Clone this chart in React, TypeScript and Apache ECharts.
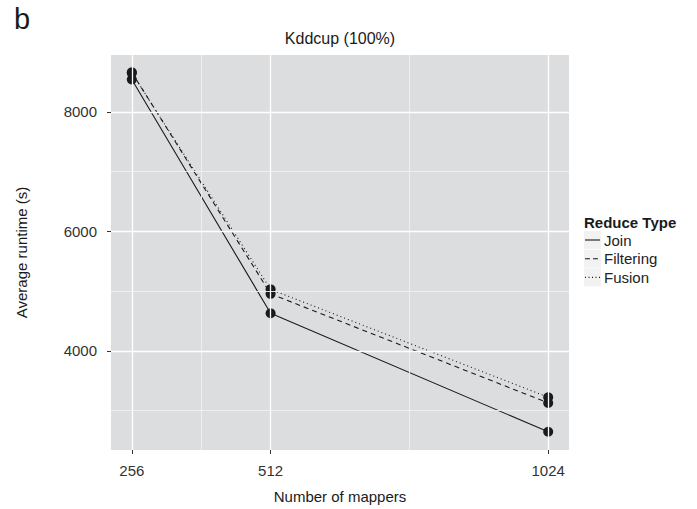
import React, { useEffect, useRef } from "react";
import * as echarts from "echarts";

const mappers = [256, 512, 1024];
const joinRuntime = [8540, 4628, 2645];
const filteringRuntime = [8660, 4953, 3128];
const fusionRuntime = [8650, 5028, 3223];
const seriesNames = ["Join", "Filtering", "Fusion"];
const xTicks = [256, 512, 1024];
const xMinor = [384, 768];
const yTicks = [4000, 6000, 8000];
const yMinor = [3000, 5000, 7000];

const FONT = "'Liberation Sans', Arial, Helvetica, sans-serif";
const INK = "#1a1a1a";

export default function App() {
  const ref = useRef<HTMLDivElement>(null);
  useEffect(() => {
    if (!ref.current) return;
    const chart = echarts.init(ref.current, null, { renderer: "svg" });
    const values = [joinRuntime, filteringRuntime, fusionRuntime];
    const lineTypes: any[] = ["solid", [5, 4], [1, 3]];
    const major = { color: "#ffffff", width: 1.3, type: "solid" };
    const minor = { color: "#f1f1f2", width: 0.9, type: "solid" };
    const legendX = 584;
    const legendY0 = 240;
    const legendStep = 18.7;
    const legendGraphics: any[] = [
      {
        type: "text",
        x: legendX,
        y: 222,
        style: { text: "Reduce Type", font: `bold 15px ${FONT}`, fill: INK, textVerticalAlign: "middle" },
      },
    ];
    seriesNames.forEach((name, i) => {
      const cy = legendY0 + i * legendStep;
      legendGraphics.push({
        type: "rect",
        shape: { x: legendX, y: cy - 9, width: 17, height: 18 },
        style: { fill: "#f2f2f2" },
      });
      legendGraphics.push({
        type: "line",
        shape: { x1: legendX + 1, y1: cy, x2: legendX + 16, y2: cy },
        style: {
          stroke: INK,
          lineWidth: 1.1,
          lineDash: i === 0 ? null : i === 1 ? [5, 3] : [1, 2.5],
        },
      });
      legendGraphics.push({
        type: "text",
        x: legendX + 20,
        y: cy,
        style: { text: name, font: `15px ${FONT}`, fill: "#222", textVerticalAlign: "middle" },
      });
    });

    chart.setOption({
      animation: false,
      backgroundColor: "#ffffff",
      textStyle: { fontFamily: FONT },
      grid: {
        left: 111,
        top: 55,
        right: 128,
        bottom: 57,
        show: true,
        backgroundColor: "#dcdddf",
        borderWidth: 0,
      },
      xAxis: {
        type: "value",
        min: 217.6,
        max: 1062.4,
        axisLine: { show: false },
        axisTick: { show: true, customValues: xTicks, length: 4, lineStyle: { color: "#333", width: 1 } },
        axisLabel: {
          customValues: xTicks,
          margin: 13,
          fontSize: 15,
          color: "#333",
          fontFamily: FONT,
          formatter: (v: number) => String(v),
        },
        splitLine: { show: false },
        name: "Number of mappers",
        nameLocation: "middle",
        nameGap: 39,
        nameTextStyle: { fontSize: 15, color: INK, fontFamily: FONT },
      },
      yAxis: {
        type: "value",
        min: 2340,
        max: 8950,
        axisLine: { show: false },
        axisTick: { show: true, customValues: yTicks, length: 4, lineStyle: { color: "#333", width: 1 } },
        axisLabel: {
          customValues: yTicks,
          margin: 14,
          fontSize: 15,
          color: "#333",
          fontFamily: FONT,
          formatter: (v: number) => String(v),
        },
        splitLine: { show: false },
        name: "Average runtime (s)",
        nameLocation: "middle",
        nameGap: 82,
        nameTextStyle: { fontSize: 15, color: INK, fontFamily: FONT },
      },
      graphic: [
        {
          type: "text",
          x: 14,
          y: 19,
          style: { text: "b", font: `29px ${FONT}`, fill: INK, textVerticalAlign: "middle" },
        },
        {
          type: "text",
          x: 340,
          y: 38,
          style: { text: "Kddcup (100%)", font: `16px ${FONT}`, fill: INK, textAlign: "center", textVerticalAlign: "middle" },
        },
        ...legendGraphics,
      ],
      series: [
        {
          type: "line",
          data: [],
          z: 1,
          silent: true,
          markLine: {
            silent: true,
            symbol: ["none", "none"],
            label: { show: false },
            emphasis: { disabled: true },
            data: [
              ...xMinor.map((v) => ({ xAxis: v, lineStyle: minor })),
              ...yMinor.map((v) => ({ yAxis: v, lineStyle: minor })),
              ...xTicks.map((v) => ({ xAxis: v, lineStyle: major })),
              ...yTicks.map((v) => ({ yAxis: v, lineStyle: major })),
            ],
          },
        },
        ...seriesNames.map((name, i) => ({
          name,
          type: "line",
          z: 3,
          data: mappers.map((m, j) => [m, values[i][j]]),
          symbol: "circle",
          symbolSize: 10,
          itemStyle: { color: INK, borderWidth: 0 },
          lineStyle: { color: INK, width: 1.1, type: lineTypes[i] },
          emphasis: { disabled: true },
        })),
      ],
    });
    return () => chart.dispose();
  }, []);
  return (
    <div
      ref={ref}
      style={{ position: "fixed", left: 0, top: 0, width: 697, height: 509, background: "#fff" }}
    />
  );
}
